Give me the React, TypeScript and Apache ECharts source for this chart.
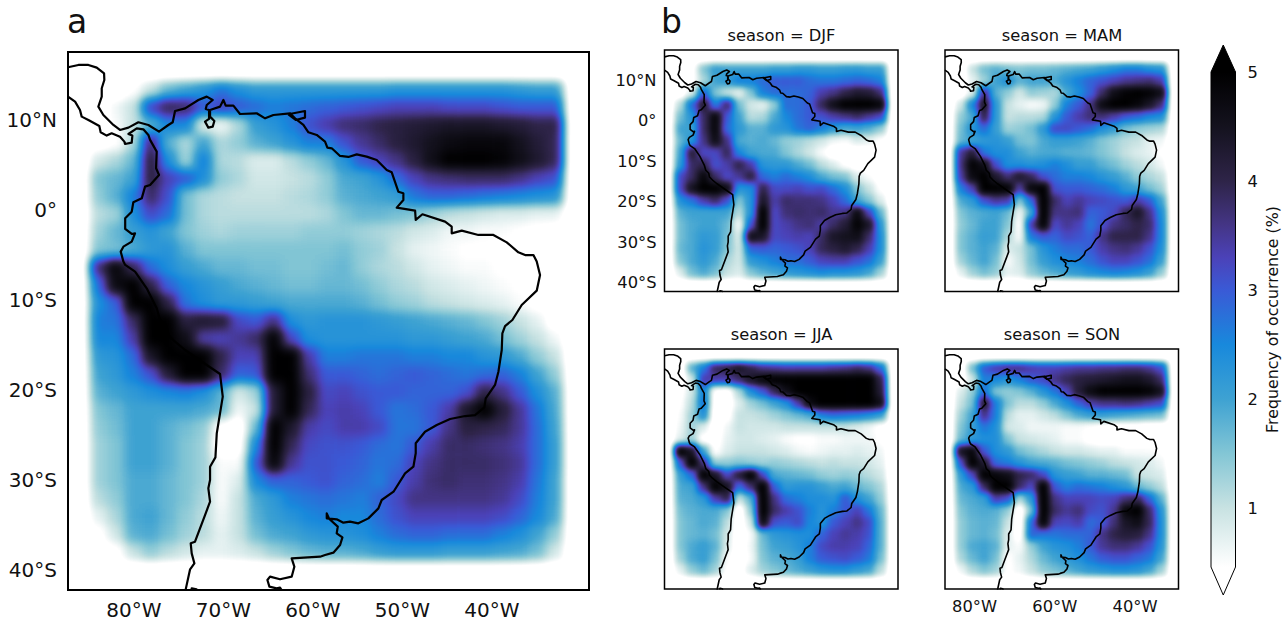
import React, { useEffect, useRef } from "react";
import * as echarts from "echarts";

const FONT = "'DejaVu Sans'";
const LON_MIN = -87.37, LON_MAX = -29.16, LAT_MIN = -42.22, LAT_MAX = 17.56;
const DATA_WEST = -85, DATA_EAST = -32, DATA_NORTH = 14.4, DATA_SOUTH = -39;

const LON_TICKS_MAIN = [-80, -70, -60, -50, -40];
const LON_TICKS_SMALL = [-80, -60, -40];
const LAT_TICKS = [10, 0, -10, -20, -30, -40];
const BAR_TICKS = [1, 2, 3, 4, 5];

// Colour scale of the reference colour bar: [frequency, colour]
const COLOR_STOPS: [number, string][] = [
  [0.45, "#ffffff"], [1, "#c8e2e2"], [1.5, "#83c6d5"], [2, "#3ea2d2"], [2.5, "#1889dc"],
  [3, "#3a5ad6"], [3.3, "#4b42b8"], [3.6, "#443585"], [4, "#2e2448"], [4.5, "#14121e"], [5, "#000000"],
];

// Frequency of occurrence (%), rows north to south, columns west to east
const MAIN_VALUES = [
  [0,0,.4,1,1.7,2,2.3,2.7,2.4,2.2,2.2,2.2,2.2,2.2,2.2,2.2,2.2,2.3,2.3,2.3,2.3,2.3,2.3,2.3,2.2,2.1,2.1],
  [0,.6,1,3.2,3.9,3.8,3,3.3,3,2.8,2.6,2.7,2.8,2.9,3,3.1,3.2,3.3,3.3,3.3,3.2,3.2,3.2,3.1,3,3,3],
  [.1,.5,1,1.8,2.5,2.5,.8,.6,1.2,2.1,2.3,2.6,3.1,3.4,3.7,3.8,4,4.1,4.2,4.3,4.4,4.4,4.4,4.3,4.2,4,4],
  [.2,.4,1.2,3.7,1.8,1.2,2,1.2,1.4,1.8,2,2.3,2.6,2.6,3.1,3.5,3.8,4.1,4.3,4.5,4.7,4.8,4.8,4.8,4.5,4.2,3.9],
  [.9,1.2,1.7,4.1,2.4,1.3,2.6,1.2,1.1,.8,.8,1.1,1.4,1.7,2.3,3,3.3,3.6,4.1,4.6,5,5,5,4.9,4.6,4.3,3.9],
  [1.5,1.7,2,4.1,3.3,3,2.4,1.4,1.2,.9,.9,1,1.1,1.4,1.9,2,2.3,2.8,3.3,3.6,3.7,3.8,3.8,3.8,3.6,3.3,3.1],
  [1.4,1.8,2.6,3.8,3.1,1.6,1.2,1.1,1,1,1,1.1,1.2,1.4,1.8,1.9,2,2.1,2.7,2.9,2.9,2.8,2.7,2.6,2.5,2.4,2.3],
  [1.1,1.3,2.4,3.2,2.8,1.6,1.2,1.1,1.1,1.1,1.1,1.1,1.1,1.2,1.5,1.7,1.7,1.6,1.5,1.3,1.1,1,.9,.8,.8,.7,.7],
  [1.3,1.7,2.1,2.3,2,1.5,1.3,1.2,1.3,1.3,1.3,1.3,1.4,1.4,1.4,1.3,1.2,1.1,.9,.8,.6,.6,.5,.5,.4,.3,.2],
  [1.5,1.6,1.9,2.2,2.3,1.8,1.5,1.5,1.5,1.5,1.5,1.5,1.5,1.5,1.6,1.4,1.3,1,.7,.6,.5,.4,.4,.3,.3,.2,.1],
  [3.7,4.8,3.9,2.8,2.4,2.1,1.9,1.7,1.7,1.6,1.6,1.5,1.5,1.6,1.7,1.4,1.2,1.1,.9,.7,.6,.5,.5,.4,.3,.2,0],
  [2.8,4.7,5,4,2.9,2.5,2.3,2.1,1.9,1.8,1.7,1.6,1.6,1.7,1.7,1.6,1.4,1.2,1.1,.9,.8,.7,.6,.5,.4,.3,.1],
  [2.4,2.9,5,5,4,2.7,2.4,2.2,2.2,2.1,2,1.9,1.9,1.9,1.9,1.8,1.6,1.4,1.3,1.1,1,.9,.8,.7,.5,.3,.1],
  [2.6,2.7,3.8,5,5,4.1,4.3,4.2,3.2,3,3.6,2.4,2.2,2.3,2.3,2.3,2.2,2.1,2,1.9,1.8,1.7,1.5,1.3,1,.7,.2],
  [2.5,2.5,3.4,5,5,4.6,3.4,3.3,3.5,3.8,4.9,3.2,2.4,2.3,2.3,2.3,2.3,2.3,2.2,2.2,2.1,2,1.9,1.6,1.3,1,.6],
  [2.2,2.3,2.8,4.4,5,5,5,4,3.3,3.3,5,5,3.4,2.6,2.6,2.7,2.7,2.7,2.6,2.6,2.5,2.5,2.3,2.2,1.9,1.4,1],
  [2,2.2,2.6,3.1,4.2,5,5,3.8,2.9,3,5,5,3.7,3,3,2.9,2.8,2.9,3,2.9,2.8,2.7,2.8,2.9,2.6,2,1.4],
  [1.8,2,2.2,2.4,2.5,2.6,2.4,1.8,.9,1.3,4.2,5,4.1,3.2,3.3,3.1,3,3,2.9,2.9,2.9,3.1,4,3.6,3,2.4,1.8],
  [1.5,1.7,2,2,2,2,1.9,1.7,.6,1,4.2,5,3.9,3.3,3.4,3.3,3,2.7,2.8,3,3.4,4.4,5,4.2,3.5,2.7,1.9],
  [1.4,1.6,2,2,1.8,1.6,1.4,.3,.1,1.7,5,4.3,3.4,3.2,3.4,3.4,3.2,2.7,2.7,3,3.6,4.1,4,3.9,3.5,2.8,2],
  [1.3,1.5,2,2,1.8,1.5,1.3,.1,.2,2.5,5,3.9,3.2,3.1,3.1,3,2.8,2.7,3,3.4,3.8,3.8,3.7,3.6,3.4,2.8,2.1],
  [1.3,1.5,2,2,1.8,1.5,1.3,.5,.5,3,4.8,3.5,3.1,3.1,3,2.9,2.7,2.8,3.3,3.6,3.8,3.8,3.8,3.7,3.5,2.8,2.1],
  [1.3,1.5,1.9,1.9,1.7,1.5,1.3,.5,.8,2.5,2.9,2.9,3,3.1,2.9,2.8,2.6,3,3.4,3.7,3.8,3.7,3.7,3.6,3.4,2.7,2],
  [1.1,1.4,1.9,1.9,1.7,1.5,1.2,.5,1,1.9,2.2,2.6,2.7,2.8,2.7,2.6,2.9,3.2,3.6,3.6,3.6,3.6,3.6,3.5,3.2,2.6,2],
  [.7,1.2,1.9,2,1.7,1.4,1.1,.6,1,1.8,2.1,2.3,2.5,2.6,2.5,2.5,2.8,3.1,3.3,3.3,3.3,3.3,3.3,3.2,2.9,2.5,1.9],
  [.3,.9,1.8,1.9,1.6,1.3,1.1,.7,1,1.6,1.9,2,2.2,2.3,2.3,2.4,2.6,2.8,2.9,2.9,2.8,2.8,2.8,2.6,2.4,2,1.4],
  [0,.3,1,1.4,1.1,.9,.7,.7,.8,1,1.3,1.5,1.7,1.8,1.8,1.9,2.1,2.2,2.2,2.2,2.1,2.1,2.1,2,1.9,1.6,.9],
];

const DJF_VALUES = [
  [0,.3,1.5,2.1,2,2,2,2,2.1,2.1,2.2,2.2,2.1,2.1,2.2,2.2,2.1,2.1],
  [0,.3,1.2,2,2.2,2.6,2.6,2.8,3,3,3,2.8,2.7,2.7,2.8,2.9,2.8,2.6],
  [.1,.8,3,1.5,1,.7,1.5,2.6,2.8,2.8,2.8,2.9,3.4,3.6,4,4.3,4.2,3.7],
  [1.1,2.8,4.3,2.6,3.8,1.6,.9,.7,1.4,2.8,2.8,3,3.9,4.6,5,5,5,4.8],
  [1.6,2.3,3.8,4.8,3,2,1.1,1.2,1.9,2.5,2.8,3,3.1,3.4,3.6,3.8,3.5,3.2],
  [2,2,3.8,4.8,2.8,2.2,1.8,1.8,2.2,2.3,2.7,2.9,2.6,2.2,1.9,2,1.8,1.4],
  [1.7,2.3,3.6,4.6,3.6,1.9,1.8,1.9,1.7,1.4,1.3,1.1,.9,.6,.5,.8,.7,.4],
  [2,4.2,3.2,3.2,3.9,2.5,2,1.9,1.9,1.5,1.2,.9,.5,.1,.1,.1,.1,0],
  [2.2,3.8,4,3.1,3.4,4,3.4,2.3,2.2,2.2,1.9,1.6,1.1,.8,.4,.2,.1,0],
  [3.2,3.8,4.8,3.8,3.2,3.5,4.1,2.8,2.6,2.8,2.6,2.4,1.9,1.6,1.5,.8,.5,.2],
  [3.2,4.5,5,5,4.7,2.3,2.4,4,3.2,3.2,3.3,3.1,3.2,2.8,2.4,1.5,1,.4],
  [2.4,2.7,3.4,3.8,3.1,1.5,2.3,4.4,3.4,3.8,3.7,3.7,3.6,3.3,2.8,2,1.5,.8],
  [1.8,2,2,2,2,1.1,2.3,5,3.2,3.7,3.8,3.7,3.8,3.5,3.6,4.7,3.3,1.7],
  [1.6,1.9,2,2,1.7,.5,3,5,3.2,3.4,3.6,3.7,3.4,3.8,4.2,4.9,4.4,2.2],
  [1.6,1.9,2.2,2.1,1.6,.8,4.6,4.4,3.2,3.3,3.4,3.3,3.8,4.4,4.5,4.6,3.8,2.4],
  [1.7,1.9,2.3,2.1,1.5,.9,2.9,3,2.9,3,3.1,3.3,3.9,4.1,4.3,4,3.4,2.4],
  [1.5,1.9,2.2,1.9,1.2,.9,2.2,2.4,2.6,2.8,2.8,3,3.3,3.4,3.4,3.1,2.8,2.1],
  [.8,1.6,1.9,1.6,1,.8,1.5,1.8,2,2.2,2.3,2.4,2.5,2.4,2.4,2.3,2,1.3],
];

const MAM_VALUES = [
  [0,1,1.6,1.8,1.6,1.5,1.6,1.6,1.7,1.8,1.9,2,2.2,2.4,2.6,2.6,2.4,2.3],
  [.1,.7,1.3,2,2.4,1.8,2,2,1.9,2.3,2.6,2.9,3.1,3.3,3.5,3.6,3.7,3.4],
  [.1,.8,3.6,1.8,1.4,.9,1.4,1.3,1.2,1.9,2.4,2.9,3.8,4.6,4.9,5,4.9,4.6],
  [.9,2.5,4.4,2.2,1,.7,.5,.6,1.4,2.6,3,3.6,4.7,5,5,4.8,4.4,3.7],
  [1.4,1.9,4,2.2,1,1.1,1.1,1.2,2.3,3,3.4,3.7,3.7,3.4,3,2.8,2.5,2.4],
  [1.6,2.3,2.8,2.1,1.3,1.4,1.6,2.2,3.2,3.2,3,2.8,2.4,2.1,1.6,1.4,1.3,1.2],
  [1.7,2,2.2,2.3,2.1,1.6,1.5,1.9,2.1,2.1,2,1.8,1.5,1.3,1.1,1,.7,.6],
  [3.5,4.2,2.7,2.4,2.4,2,1.8,1.9,1.9,1.8,1.8,1.7,1.5,1.3,1,.8,.7,.4],
  [3.6,4.9,4.6,3.1,2.4,2.4,2.3,2.4,2.6,2.4,2.1,2.1,1.8,1.6,1.3,1.1,.9,.6],
  [3.4,4.7,5,4.3,3.7,4.3,3.9,3.1,2.8,2.6,2.6,2.5,2.3,2.1,1.8,1.4,1.2,1],
  [2.6,3.3,5,5,4.9,3.4,4.8,5,3.1,3,3,2.9,2.8,2.6,2.2,2,1.6,1.3],
  [1.9,2.2,3.1,3.5,3.4,1.5,2.8,5,3.8,3.3,3.5,3.3,3.2,3.1,3,3.4,3,2],
  [1.5,1.8,1.9,2,1.7,.6,2,5,3.6,3.6,3.7,2.9,3,3.2,3.9,4.4,3.6,2.4],
  [1.4,1.7,2,2,1.5,.4,3.4,4.9,3.2,3.5,3.3,2.7,3.1,3.6,3.8,4,3.8,2.5],
  [1.5,1.8,2.1,2,1.2,.5,2.7,3,2.9,3.2,3.1,2.9,3.6,4,4,4,3.6,2.5],
  [1.5,1.8,2,1.8,.8,1,1.6,2.3,2.6,2.8,2.8,3,3.4,3.6,3.7,3.5,3.1,2.4],
  [1.3,1.7,2,1.6,.5,.9,1.6,2.1,2.4,2.5,2.6,2.8,3.1,3.3,3.3,3.1,2.8,2.1],
  [.7,1.3,1.6,1.4,.7,.8,1.4,1.7,1.9,2.1,2.2,2.4,2.5,2.6,2.5,2.4,2.1,1.4],
];

const JJA_VALUES = [
  [0,1.8,2.6,3.9,4.1,4.4,4,3.6,3.5,3.4,3.4,3.4,3.4,3.5,3.6,3.8,3.6,2.8],
  [0,.9,3.4,3.4,3.4,3.8,4.4,4.8,5,5,5,5,5,5,5,5,5,4],
  [.3,.9,2.6,.3,.2,1.2,2.4,3,3.9,4.6,5,5,5,5,5,5,5,4.2],
  [.4,1.1,2.8,.2,.1,.8,1.3,1.6,2,2.4,3.4,4.7,5,5,5,5,5,4.6],
  [.5,1.3,2.4,.1,.3,1,1,1.1,1.3,1.5,1.7,1.9,2.6,2.8,2.7,2.6,2.4,2.1],
  [.6,1.3,.8,.1,.6,1,.9,.9,.9,1,1,1,1,1,1,.8,.6,.3],
  [.8,1.3,.3,.2,.7,.9,.9,.8,.7,.5,.4,.4,.5,.5,.6,.6,.6,.4],
  [5,4.4,2,.4,.8,1,1,1,.9,.8,.6,.5,.6,.7,.7,.8,.7,.6],
  [3,5,3.6,1.4,1.4,1.5,1.4,1.3,1.4,1.3,1.2,1.1,1,1.1,1,1,.9,.7],
  [2.1,2.8,5,4.4,3.2,4.2,5,3.2,1.9,1.8,1.7,1.6,1.4,1.3,1.4,1.3,1.1,.9],
  [1.9,2,3.6,5,4.5,2.8,3.7,5,2.9,2.2,2.3,2.3,2.1,1.9,2,1.7,1.5,1.2],
  [1.8,1.9,2.2,3.4,4,1,1.8,5,3.6,2.8,2.6,2.4,2.4,2.3,3,2.4,2,1.4],
  [1.6,1.8,1.9,1.9,1.5,.1,1.4,5,3.8,3.4,3.1,2.6,2.3,2.6,3,3.3,2.7,1.7],
  [1.5,1.7,1.9,1.8,1.1,.1,.9,4.7,3.1,3,3.2,2.5,2.3,3,3.3,3.6,3.2,1.8],
  [1.5,1.7,1.8,1.6,.9,.1,.5,1.7,2.2,2.3,2.4,2.4,2.9,3.3,3.5,3.4,3.1,1.8],
  [1.5,1.9,2.1,1.8,.8,.1,.6,1.6,2,2.1,2.3,2.6,3.2,3.4,3.4,3.3,2.9,1.8],
  [1.3,1.9,2.1,1.6,.5,.1,.5,1.5,1.8,1.9,2.1,2.6,3,3.1,3.2,3,2.7,1.6],
  [.7,1.4,1.7,1.3,.4,.2,.8,1.3,1.5,1.7,1.9,2.1,2.3,2.4,2.4,2.2,2,1.1],
];

const SON_VALUES = [
  [0,1.6,3,3.4,3.6,3.6,3.4,3.3,3.3,3.4,3.5,3.5,3.6,3.6,3.7,3.7,3.5,3.1],
  [.1,.9,2.6,2.5,2.3,2.6,3,3.2,3.6,3.9,4.1,4.2,4.3,4.4,4.5,4.5,4.3,3.8],
  [.8,1.4,2.8,1.5,1.4,1.5,1.8,2.3,2.7,3.3,4.2,4.7,5,5,5,5,4.9,4.5],
  [1,1.6,4.3,2.6,1.5,1.1,1.1,1.4,1.9,2.4,2.9,3.4,3.6,3.6,3.7,3.6,3.4,3.2],
  [1.3,2,3.6,2.6,1.1,.7,.7,.9,1.1,1.5,1.9,2.1,2.1,2,1.9,1.8,1.7,1.6],
  [1.5,2.1,2.7,2.4,.9,.8,.6,.6,.6,.5,.5,.4,.3,.2,.2,.2,.1,.1],
  [1.7,2.2,2.4,2.4,1.5,1,.9,.8,.7,.5,.5,.3,.2,.2,.2,.2,.2,.1],
  [4.5,4.8,3,2.4,2.2,1.6,1.4,1.2,1,.9,.9,.8,.7,.7,.5,.5,.5,.4],
  [3.1,5,4.3,2.8,2.6,2.3,2,1.9,1.8,1.6,1.5,1.4,1.3,1.1,1,.9,.8,.6],
  [2.2,3.2,5,4.8,4.6,4,3.8,3.2,2.3,2.1,2,1.8,1.8,1.7,1.6,1,.9,.8],
  [1.9,2.2,3.8,5,5,3.8,3.2,5,3,2.6,2.8,2.7,2.6,2.4,2.2,1.7,1.4,1.1],
  [1.7,1.9,2.1,3.4,3.1,1.2,2.2,5,3.6,3.3,3.3,3.3,3.2,3.3,3.7,3.9,2.9,1.8],
  [1.5,1.8,1.9,1.8,1.4,.1,1.6,5,3.8,3.5,3.7,3.2,3.1,3.5,4.8,5,3.8,2.3],
  [1.4,1.7,1.8,1.7,1,.1,2.8,4.9,3.3,3.2,3.4,2.8,3,3.7,4.4,4.6,3.9,2.4],
  [1.4,1.7,1.8,1.6,.8,.2,2.9,2.7,2.7,2.8,2.8,2.9,3.6,4,4.2,4.1,3.6,2.4],
  [1.4,1.9,2,1.8,.7,.5,1.4,2,2.3,2.4,2.6,3,3.5,3.7,3.7,3.5,3.1,2.3],
  [1.2,1.7,2,1.6,.4,.7,1.2,1.7,2,2.2,2.4,2.7,3,3.1,3.1,2.9,2.7,2],
  [.6,1.2,1.5,1.3,.4,.6,1,1.4,1.6,1.8,2,2.2,2.3,2.4,2.4,2.3,2,1.3],
];

// Coastlines as [longitude, latitude]
const COAST_ATLANTIC = [
  [-87.37,15.86],[-86.21,16.12],[-85.09,16.12],[-84.16,15.82],[-83.34,15.19],[-83.31,14.45],[-83.6,13.53],[-83.6,12.6],[-83.98,11.49],[-83.42,10.56],[-82.3,9.45],[-81.56,8.9],[-80.62,9.16],[-79.51,9.75],[-78.39,9.45],[-77.2,8.71],[-76.16,9.45],[-75.67,9.75],[-75.41,11],[-74.29,11.3],[-72.8,12.23],[-71.87,12.6],[-71.2,12.23],[-71.87,11.67],[-71.98,11.23],[-71.61,11.12],[-71.61,10.12],[-72.06,9.82],[-71.69,9.16],[-71.2,9.27],[-71.02,9.9],[-71.5,10.38],[-71.5,11.12],[-70.38,11.49],[-70.01,12.23],[-69.75,11.6],[-68.89,11.6],[-68.15,10.67],[-66.29,10.75],[-65.35,10.19],[-64.42,10.56],[-62.56,10.75],[-61.93,10.12],[-61.07,9.45],[-60.51,8.64],[-59.58,8.34],[-58.65,7.6],[-58.39,6.93],[-57.9,6.86],[-56.97,6.01],[-56.04,5.9],[-55.11,6.19],[-54,5.93],[-52.88,5.56],[-51.76,4.45],[-51.2,4.19],[-50.46,2.04],[-49.9,1.86],[-49.9,1.12],[-50.64,.27],[-48.59,-.07],[-48.52,-1.1],[-47.77,-.47],[-45.24,-1.29],[-44.5,-1.85],[-44.5,-2.59],[-43.38,-2.29],[-41.52,-2.77],[-39.84,-2.77],[-38.35,-3.59],[-37.05,-4.7],[-36.3,-5],[-35.37,-5],[-35,-5.73],[-34.63,-7.22],[-35,-8.96],[-36.68,-10.55],[-37.72,-12.22],[-38.54,-12.89],[-38.84,-13.7],[-38.91,-15.55],[-39.28,-17.96],[-39.66,-19.44],[-40.7,-20.92],[-40.85,-21.92],[-41.89,-22.78],[-43,-22.89],[-44.68,-23.22],[-46.17,-23.89],[-47.48,-24.63],[-48.52,-25.92],[-48.52,-27.03],[-48.78,-28.52],[-49.71,-29.26],[-51,-31.3],[-52.32,-32.22],[-52.69,-33.15],[-53.81,-34.26],[-54.93,-34.81],[-55.86,-34.63],[-56.6,-34.74],[-57.35,-34.37],[-58.46,-34.26],[-58.46,-33.7],[-58.2,-34.3],[-57.23,-35.18],[-57.35,-35.92],[-56.71,-36.37],[-56.97,-37.22],[-57.72,-38.07],[-58.65,-38.33],[-59.21,-38.52],[-62.38,-38.7],[-62.08,-39.63],[-62.38,-40.74],[-63.68,-41.03],[-64.8,-40.74],[-65.09,-41.11],[-64.87,-41.85],[-64.05,-42.04],[-63.68,-41.96],[-63.4,-42.4],
];
const COAST_PACIFIC = [
  [-87.37,12.6],[-86.58,12.04],[-86.03,11.12],[-85.84,10.38],[-85.09,10.01],[-83.87,9.34],[-83.72,8.64],[-83.05,8.27],[-82.49,8.53],[-81.56,8.15],[-81.07,7.6],[-81,7.34],[-80.25,7.49],[-80.18,8.27],[-80.62,8.45],[-79.69,9.08],[-78.95,8.97],[-78.39,8.34],[-78.2,7.8],[-77.46,6.49],[-77.53,4.64],[-77.2,3.9],[-78.2,2.78],[-78.76,2.6],[-79.13,1.3],[-80.07,.86],[-80.25,-.18],[-80.98,-.92],[-80.98,-2.1],[-80.25,-2.66],[-79.88,-2.59],[-80.25,-3.51],[-81.18,-4.07],[-81.48,-4.62],[-81.18,-5.73],[-80.98,-6.1],[-79.88,-6.84],[-78.58,-8.7],[-77.46,-10.92],[-77.09,-12.22],[-76.34,-12.96],[-76.16,-13.89],[-75.41,-14.63],[-74.29,-15.55],[-71.87,-17.22],[-70.38,-18.22],[-70.08,-20.74],[-70.75,-24.81],[-70.9,-27.48],[-71.5,-28.52],[-71.5,-30],[-71.69,-30.92],[-71.5,-32.41],[-72.06,-33.89],[-73.18,-36.85],[-73.66,-37.03],[-73.55,-38.15],[-73.25,-39.26],[-73.73,-39.92],[-74.22,-42.15],[-74.3,-42.4],
];
const COAST_TRINIDAD = [[-62.75,10.64],[-60.89,11],[-60.89,10.27],[-61.93,10.01],[-62.75,10.64]];
const COAST_CHILOE = [[-73.6,-42.4],[-73.55,-42.03],[-73,-42.15],[-72.8,-42.4]];
const COASTS = [COAST_ATLANTIC, COAST_PACIFIC, COAST_TRINIDAD, COAST_CHILOE];

type Panel = { title?: string; titleX?: number; titleY?: number; values: number[][]; left: number; top: number; w: number; h: number; lonTicks?: number[]; latTicks?: number[]; };

const PANEL_MAIN: Panel = { values: MAIN_VALUES, left: 68, top: 52, w: 521, h: 538, lonTicks: LON_TICKS_MAIN, latTicks: LAT_TICKS };
const PANELS_SMALL: Panel[] = [
  { title: "season = DJF", titleX: 776.5, titleY: 22, values: DJF_VALUES, left: 664.5, top: 50, w: 233.5, h: 241.5, latTicks: LAT_TICKS },
  { title: "season = MAM", titleX: 1057, titleY: 22, values: MAM_VALUES, left: 945, top: 50, w: 233.5, h: 241.5 },
  { title: "season = JJA", titleX: 776.5, titleY: 321, values: JJA_VALUES, left: 664.5, top: 349, w: 233.5, h: 240 },
  { title: "season = SON", titleX: 1057, titleY: 321, values: SON_VALUES, left: 945, top: 349, w: 233.5, h: 240, lonTicks: LON_TICKS_SMALL },
];

const hexRgb = (h: string) => [1, 3, 5].map((i) => parseInt(h.slice(i, i + 2), 16));
function colorAt(v: number) {
  if (v <= COLOR_STOPS[0][0]) return hexRgb(COLOR_STOPS[0][1]);
  for (let i = 1; i < COLOR_STOPS.length; i++) {
    if (v <= COLOR_STOPS[i][0]) {
      const [a, ca] = COLOR_STOPS[i - 1];
      const [b, cb] = COLOR_STOPS[i];
      const t = (v - a) / (b - a);
      const A = hexRgb(ca), B = hexRgb(cb);
      return A.map((x, k) => x + (B[k] - x) * t);
    }
  }
  return [0, 0, 0];
}
// The heat cells are drawn as value-encoded greys; the page's SVG filter smooths them and applies the colour scale.
const tableSteps = Array.from({ length: 256 }, (_, i) => colorAt((i / 255) * 5));
const table = (k: number) => tableSteps.map((c) => (c[k] / 255).toFixed(4)).join(" ");

function heatOption(panels: Panel[], shiftX: number) {
  return {
    animation: false,
    grid: panels.map((p) => ({ left: p.left - shiftX, top: p.top, width: p.w, height: p.h, show: false })),
    xAxis: panels.map((_, i) => ({ type: "value", gridIndex: i, min: LON_MIN, max: LON_MAX, show: false })),
    yAxis: panels.map((_, i) => ({ type: "value", gridIndex: i, min: LAT_MIN, max: LAT_MAX, show: false })),
    series: panels.map((p, i) => {
      const rows = p.values.length, cols = p.values[0].length;
      const dLon = (DATA_EAST - DATA_WEST) / cols, dLat = (DATA_NORTH - DATA_SOUTH) / rows;
      const data: number[][] = [];
      p.values.forEach((row, r) => row.forEach((v, c) => {
        if (v > 0) data.push([DATA_WEST + (c + 0.5) * dLon, DATA_NORTH - (r + 0.5) * dLat, v]);
      }));
      return {
        type: "custom", xAxisIndex: i, yAxisIndex: i, silent: true, data,
        encode: { x: 0, y: 1 },
        renderItem: (_: any, api: any) => {
          const c = api.coord([api.value(0), api.value(1)]);
          const s = api.size([dLon, dLat]);
          const g = Math.round((api.value(2) / 5) * 255);
          return {
            type: "rect",
            shape: { x: c[0] - s[0] / 2, y: c[1] - s[1] / 2, width: s[0] + 0.6, height: s[1] + 0.6 },
            style: { fill: `rgb(${g},${g},${g})` },
          };
        },
      };
    }),
  };
}

const BAR = { left: 1211, width: 24.5, top: 72, height: 495, min: 0.46, max: 5 };

function frontOption() {
  const panels = [PANEL_MAIN, ...PANELS_SMALL];
  const barIdx = panels.length;
  const lat = (v: number) => (v === 0 ? "0°" : v > 0 ? `${v}°N` : `${-v}°S`);
  const lon = (v: number) => `${-v}°W`;
  const series: any[] = [];
  panels.forEach((p, i) => {
    COASTS.forEach((c) => {
      series.push({
        type: "line", xAxisIndex: i, yAxisIndex: i, data: c, showSymbol: false, silent: true, z: 3,
        lineStyle: { color: "#000", width: i === 0 ? 2.2 : 1.6, join: "round" },
      });
    });
  });
  series.push({
    type: "custom", xAxisIndex: barIdx, yAxisIndex: barIdx, silent: true, data: [[0, BAR.max, BAR.min]],
    renderItem: (_: any, api: any) => {
      const top = api.coord([0, api.value(1)]);
      const bottom = api.coord([1, api.value(2)]);
      return {
        type: "rect",
        shape: { x: top[0], y: top[1], width: bottom[0] - top[0], height: bottom[1] - top[1] },
        style: {
          fill: new echarts.graphic.LinearGradient(0, 0, 0, 1,
            COLOR_STOPS.map(([v, col]) => ({ offset: Math.max(0, (BAR.max - v) / (BAR.max - BAR.min)), color: col })).reverse()),
        },
      };
    },
  });
  const cx = BAR.left + BAR.width / 2, r = BAR.left + BAR.width, b = BAR.top + BAR.height;
  return {
    animation: false,
    textStyle: { fontFamily: FONT },
    title: [
      { text: "a", left: 62, top: 0, textStyle: { fontFamily: FONT, fontSize: 33, fontWeight: "normal", color: "#111" } },
      { text: "b", left: 656, top: 0, textStyle: { fontFamily: FONT, fontSize: 33, fontWeight: "normal", color: "#111" } },
      ...PANELS_SMALL.map((p) => ({
        text: p.title, left: p.titleX, top: p.titleY, textAlign: "center",
        textStyle: { fontFamily: FONT, fontSize: 16.3, fontWeight: "normal", color: "#111" },
      })),
    ],
    grid: [
      ...panels.map((p, i) => ({ left: p.left, top: p.top, width: p.w, height: p.h, show: true, borderColor: "#000", borderWidth: i === 0 ? 2 : 1.5, backgroundColor: "transparent" })),
      { left: BAR.left, top: BAR.top, width: BAR.width, height: BAR.height, show: false },
    ],
    xAxis: [
      ...panels.map((p, i) => ({
        type: "value", gridIndex: i, min: LON_MIN, max: LON_MAX, splitLine: { show: false },
        axisLine: { show: false }, axisTick: { show: false },
        axisLabel: p.lonTicks
          ? { show: true, customValues: p.lonTicks, formatter: lon, margin: i === 0 ? 10 : 9, fontSize: i === 0 ? 20 : 16.3, fontFamily: FONT, color: "#111", hideOverlap: false }
          : { show: false },
      })),
      { type: "value", gridIndex: barIdx, min: 0, max: 1, show: false },
    ],
    yAxis: [
      ...panels.map((p, i) => ({
        type: "value", gridIndex: i, min: LAT_MIN, max: LAT_MAX, splitLine: { show: false },
        axisLine: { show: false }, axisTick: { show: false },
        axisLabel: p.latTicks
          ? { show: true, customValues: p.latTicks, formatter: lat, margin: i === 0 ? 11 : 8, fontSize: i === 0 ? 20 : 16.3, fontFamily: FONT, color: "#111", hideOverlap: false }
          : { show: false },
      })),
      {
        type: "value", gridIndex: barIdx, position: "right", min: BAR.min, max: BAR.max, splitLine: { show: false },
        axisLine: { show: false },
        axisTick: { show: true, customValues: BAR_TICKS, length: 4, lineStyle: { color: "#000", width: 1 } },
        axisLabel: { show: true, customValues: BAR_TICKS, fontSize: 16.3, fontFamily: FONT, color: "#111", margin: 12 },
        name: "Frequency of occurrence (%)", nameLocation: "middle", nameRotate: 90, nameGap: 29,
        nameTextStyle: { fontFamily: FONT, fontSize: 15.8, color: "#111" },
      },
    ],
    graphic: [
      { type: "polygon", silent: true, z: 5, shape: { points: [[BAR.left, BAR.top], [cx, 45], [r, BAR.top]] }, style: { fill: "#000", stroke: "#000", lineWidth: 1 } },
      { type: "polyline", silent: true, z: 5, shape: { points: [[BAR.left, BAR.top], [BAR.left, b], [cx, 595], [r, b], [r, BAR.top]] }, style: { fill: "none", stroke: "#000", lineWidth: 1 } },
    ],
    series,
  };
}

function MapFilter({ id, blur }: { id: string; blur: number }) {
  return (
    <filter id={id} x="0" y="0" width="100%" height="100%" colorInterpolationFilters="sRGB">
      <feGaussianBlur stdDeviation={blur} />
      <feComponentTransfer>
        <feFuncR type="table" tableValues={table(0)} />
        <feFuncG type="table" tableValues={table(1)} />
        <feFuncB type="table" tableValues={table(2)} />
      </feComponentTransfer>
    </filter>
  );
}

export default function App() {
  const mainRef = useRef<HTMLDivElement>(null);
  const smallRef = useRef<HTMLDivElement>(null);
  const frontRef = useRef<HTMLDivElement>(null);
  useEffect(() => {
    const a = echarts.init(mainRef.current!, null, { renderer: "svg" });
    const b = echarts.init(smallRef.current!, null, { renderer: "svg" });
    const c = echarts.init(frontRef.current!, null, { renderer: "svg" });
    a.setOption(heatOption([PANEL_MAIN], 0));
    b.setOption(heatOption(PANELS_SMALL, 620));
    c.setOption(frontOption());
    return () => { a.dispose(); b.dispose(); c.dispose(); };
  }, []);
  const base: React.CSSProperties = { position: "absolute", top: 0, height: 622, background: "#000" };
  return (
    <div style={{ position: "absolute", left: 0, top: 0, width: 1288, height: 622, overflow: "hidden", background: "#fff" }}>
      <svg width="0" height="0" style={{ position: "absolute" }}>
        <defs>
          <MapFilter id="mapMain" blur={5.5} />
          <MapFilter id="mapSmall" blur={3.6} />
        </defs>
      </svg>
      <div ref={mainRef} style={{ ...base, left: 0, width: 620, filter: "url(#mapMain)" }} />
      <div ref={smallRef} style={{ ...base, left: 620, width: 580, filter: "url(#mapSmall)" }} />
      <div ref={frontRef} style={{ position: "absolute", left: 0, top: 0, width: 1288, height: 622 }} />
    </div>
  );
}
